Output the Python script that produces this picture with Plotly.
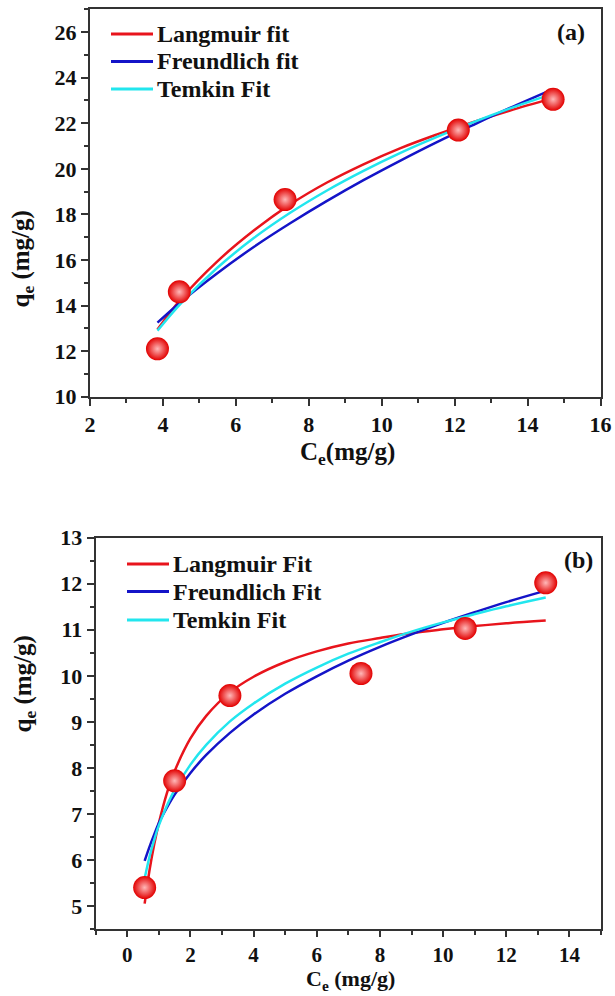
import plotly.graph_objects as go

# ---------------- Panel (a) data ----------------
a_ce = [3.85, 4.45, 7.35, 12.1, 14.7]
a_qe = [12.1, 14.6, 18.65, 21.7, 23.05]

a_fit_x = [3.85, 4.5, 5.5, 6.5, 7.5, 8.5, 9.5, 10.5, 11.5, 12.5, 13.5, 14.7]
a_langmuir = [12.95, 14.3, 15.95, 17.3, 18.45, 19.4, 20.2, 20.9, 21.5, 22.05, 22.55, 23.1]
a_freundlich = [13.25, 14.17, 15.43, 16.58, 17.62, 18.59, 19.5, 20.35, 21.16, 21.92, 22.66, 23.5]
a_temkin = [12.9, 14.11, 15.67, 16.97, 18.08, 19.05, 19.91, 20.69, 21.39, 22.04, 22.64, 23.3]

# ---------------- Panel (b) data ----------------
b_ce = [0.55, 1.5, 3.25, 7.4, 10.7, 13.25]
b_qe = [5.4, 7.72, 9.57, 10.05, 11.03, 12.02]

b_fit_x = [0.55, 0.7, 0.85, 1.0, 1.25, 1.5, 2.0, 2.5, 3.25, 4, 5, 6, 7, 8, 9, 10, 11, 12, 13.25]
b_langmuir = [5.05, 5.76, 6.33, 6.8, 7.44, 7.93, 8.64, 9.13, 9.64, 9.98, 10.3, 10.53, 10.7, 10.82,
              10.93, 11.01, 11.08, 11.14, 11.2]
b_freundlich = [5.98, 6.28, 6.55, 6.8, 7.13, 7.42, 7.89, 8.28, 8.76, 9.16, 9.61, 9.99, 10.33, 10.63,
                10.9, 11.15, 11.38, 11.6, 11.85]
b_temkin = [5.6, 6.06, 6.43, 6.75, 7.17, 7.52, 8.07, 8.5, 9.01, 9.4, 9.83, 10.18, 10.48, 10.73,
            10.96, 11.16, 11.34, 11.51, 11.7]

a_names = ["Langmuir fit", "Freundlich fit", "Temkin Fit"]
b_names = ["Langmuir Fit", "Freundlich Fit", "Temkin Fit"]
colors = ["#e8141c", "#1414c8", "#22e6ee"]

FONT = "Times New Roman, Liberation Serif, serif"
INK = "#111111"
W, H = 615, 996

fig = go.Figure()

marker = dict(size=23, color="#e20000",
              gradient=dict(type="radial", color="#ffb8b8"),
              line=dict(width=0))

# panel a
for name, ys, c in zip(a_names, [a_langmuir, a_freundlich, a_temkin], colors):
    fig.add_trace(go.Scatter(x=a_fit_x, y=ys, mode="lines", name=name,
                             line=dict(color=c, width=2.5, shape="spline"),
                             xaxis="x", yaxis="y", showlegend=False))
fig.add_trace(go.Scatter(x=a_ce, y=a_qe, mode="markers", marker=marker,
                         showlegend=False, xaxis="x", yaxis="y"))

# panel b
for name, ys, c in zip(b_names, [b_langmuir, b_freundlich, b_temkin], colors):
    fig.add_trace(go.Scatter(x=b_fit_x, y=ys, mode="lines", name=name,
                             line=dict(color=c, width=2.5, shape="spline"),
                             xaxis="x2", yaxis="y2", showlegend=False))
fig.add_trace(go.Scatter(x=b_ce, y=b_qe, mode="markers", marker=marker,
                         showlegend=False, xaxis="x2", yaxis="y2"))

minor = dict(ticklen=4, ticks="outside", tickcolor="#333333", tickwidth=1.5)
axis_common = dict(showline=True, linecolor="#333333", linewidth=2, mirror=True,
                   ticks="outside", ticklen=7, tickwidth=1.5, tickcolor="#333333",
                   showgrid=False, zeroline=False, automargin=False,
                   tickfont=dict(family=FONT, size=22, color=INK, weight="bold"))

fig.update_layout(
    width=W, height=H,
    margin=dict(l=0, r=0, t=0, b=0),
    paper_bgcolor="white", plot_bgcolor="white",
    font=dict(family=FONT, size=22, color=INK, weight="bold"),
    showlegend=False,
    xaxis=dict(axis_common, domain=[90 / W, 600.5 / W], range=[2, 16], dtick=2,
               minor=dict(minor, dtick=1), anchor="y"),
    yaxis=dict(axis_common, domain=[1 - 396.7 / H, 1 - 9.3 / H], range=[10, 27],
               tickvals=[10, 12, 14, 16, 18, 20, 22, 24, 26],
               minor=dict(minor, dtick=1), anchor="x"),
    xaxis2=dict(axis_common, domain=[95.7 / W, 601 / W], range=[-1, 15],
                tickvals=[0, 2, 4, 6, 8, 10, 12, 14], ticklen=6,
                tickfont=dict(family=FONT, size=21, color=INK, weight="bold"),
                minor=dict(minor, dtick=1), anchor="y2"),
    yaxis2=dict(axis_common, domain=[1 - 929 / H, 1 - 537.7 / H], range=[4.5, 13],
                tickvals=[5, 6, 7, 8, 9, 10, 11, 12, 13],
                minor=dict(minor, dtick=0.5), anchor="x2"),
)

# legend drawn as paper-positioned keys with real text
leg_font = dict(family=FONT, size=24, color=INK, weight="bold")
def add_legend(names, x0, x1, xt, rows):
    for name, c, yr in zip(names, colors, rows):
        fig.add_shape(type="line", xref="paper", yref="paper",
                      x0=x0 / W, x1=x1 / W, y0=1 - yr / H, y1=1 - yr / H,
                      line=dict(color=c, width=3))
        fig.add_annotation(text=name, x=xt / W, y=1 - yr / H, xref="paper", yref="paper",
                           xanchor="left", yanchor="middle", showarrow=False, font=leg_font)

add_legend(a_names, 111, 153, 155, [34, 61.5, 89])
add_legend(b_names, 127, 169, 171, [564, 591.5, 620])

ann_font = dict(family=FONT, size=25, color=INK, weight="bold")
lab_font = dict(family=FONT, size=24, color=INK, weight="bold")
fig.add_annotation(text="(a)", x=571 / W, y=1 - 32 / H, xref="paper", yref="paper",
                   xanchor="center", yanchor="middle", showarrow=False, font=lab_font)
fig.add_annotation(text="(b)", x=578 / W, y=1 - 560 / H, xref="paper", yref="paper",
                   xanchor="center", yanchor="middle", showarrow=False, font=lab_font)
fig.add_annotation(text="C<sub>e</sub>(mg/g)", x=348 / W, y=1 - 436 / H, xref="paper",
                   yref="paper", xanchor="center", yanchor="top", showarrow=False, font=ann_font)
fig.add_annotation(text="q<sub>e</sub> (mg/g)", x=22 / W, y=1 - 209 / H, xref="paper",
                   yref="paper", xanchor="center", showarrow=False, textangle=-90, font=ann_font)
fig.add_annotation(text="C<sub>e</sub> (mg/g)", x=350 / W, y=0, xref="paper",
                   yref="paper", xanchor="center", yanchor="bottom", showarrow=False,
                   font=dict(family=FONT, size=22, color=INK, weight="bold"))
fig.add_annotation(text="q<sub>e</sub> (mg/g)", x=24 / W, y=1 - 735 / H, xref="paper",
                   yref="paper", xanchor="center", showarrow=False, textangle=-90, font=ann_font)

fig.write_html("out.html")
